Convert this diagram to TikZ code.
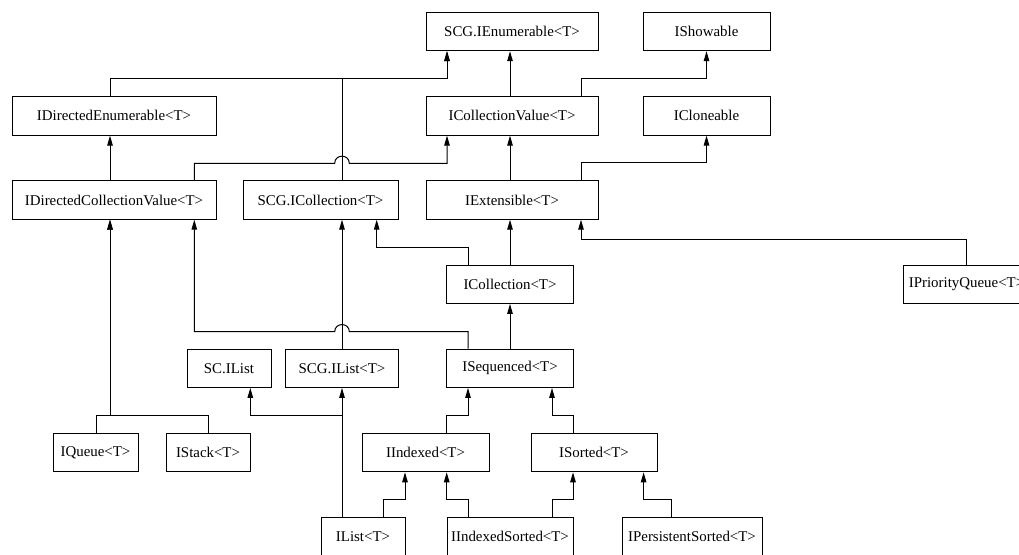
\documentclass[tikz,border=0pt]{standalone}
\usepackage{fontspec}
\setmainfont{Liberation Serif}
\usetikzlibrary{arrows.meta}
\tikzset{
  cls/.style={draw=black, line width=1pt, rectangle, inner sep=0pt,
    minimum height=38.4pt, font=\fontsize{14.9}{17}\selectfont},
  inh/.style={draw=black, line width=1pt, -{Triangle[length=10pt,width=5.5pt]}},
}
\begin{document}
\begin{tikzpicture}[x=1pt,y=-1pt]
\useasboundingbox (0,0) rectangle (1019,554);
\clip (0,0) rectangle (1019,554);
% row 1
\node[cls, minimum width=172pt] (scgenum) at (512,31.5) {SCG.IEnumerable<T>};
\node[cls, minimum width=127pt] (ishow) at (706.5,31.5) {IShowable};
% row 2
\node[cls, minimum width=204pt] (iden) at (114,115.9) {IDirectedEnumerable<T>};
\node[cls, minimum width=172pt] (icv) at (512,115.9) {ICollectionValue<T>};
\node[cls, minimum width=127pt] (iclone) at (706.5,115.9) {ICloneable};
% row 3
\node[cls, minimum width=204pt] (idcv) at (114,200) {IDirectedCollectionValue<T>};
\node[cls, minimum width=155pt] (scgcoll) at (320.5,200) {SCG.ICollection<T>};
\node[cls, minimum width=172pt] (iext) at (512,200) {IExtensible<T>};
% row 4
\node[cls, minimum width=127pt] (icoll) at (510,284.2) {ICollection<T>};
\node[cls, minimum width=127pt] (ipq) at (966.5,284.2) {IPriorityQueue<T>};
% row 5
\node[cls, minimum width=84pt] (sclist) at (229,368.2) {SC.IList};
\node[cls, minimum width=113pt] (scglist) at (342,368.2) {SCG.IList<T>};
\node[cls, minimum width=127pt] (iseq) at (510,368.2) {ISequenced<T>};
% row 6
\node[cls, minimum width=85pt] (iqueue) at (95.5,452.6) {IQueue<T>};
\node[cls, minimum width=84pt] (istack) at (208,452.6) {IStack<T>};
\node[cls, minimum width=127pt] (iidx) at (425.5,452.6) {IIndexed<T>};
\node[cls, minimum width=126pt] (isort) at (594,452.6) {ISorted<T>};
% row 7
\node[cls, minimum width=84pt] (ilist) at (363,536.5) {IList<T>};
\node[cls, minimum width=126pt] (iidxs) at (510,536.5) {IIndexedSorted<T>};
\node[cls, minimum width=140pt] (ipers) at (692,536.5) {IPersistentSorted<T>};

% connectors
\draw[inh] ([xshift=-4pt]iden.north) -- ++(0,-17.7) -| ([xshift=-65pt]scgenum.south);
\draw[inh] ([xshift=21.5pt]scgcoll.north) -- ++(0,-101.8) -| ([xshift=-65pt]scgenum.south);
\draw[inh] ([xshift=-2pt]icv.north) -- ([xshift=-2pt]scgenum.south);
\draw[inh] ([xshift=69pt]icv.north) -- ++(0,-17.7) -| (ishow.south);
\draw[inh] ([xshift=-4pt]idcv.north) -- ([xshift=-4pt]iden.south);
\draw[inh] ([xshift=80.3pt]idcv.north) |- (334.7,163.3)
   .. controls (334.7,153.8) and (349.3,153.8) .. (349.3,163.3)
   -| ([xshift=-65pt]icv.south);
\draw[inh] ([xshift=-2pt]iext.north) -- ([xshift=-2pt]icv.south);
\draw[inh] ([xshift=69pt]iext.north) -- ++(0,-17.5) -| (iclone.south);
\draw[inh] (icoll.north) -- (icoll.north |- iext.south);
\draw[inh] ([xshift=-42pt]icoll.north) -- ++(0,-17.3) -| ([xshift=56.2pt]scgcoll.south);
\draw[inh] (ipq.north) -- ++(0,-25) -| ([xshift=69pt]iext.south);
\draw[inh] (scglist.north) -- (scglist.north |- scgcoll.south);
\draw[inh] (iseq.north) -- (iseq.north |- icoll.south);
\draw[inh] ([xshift=-42pt]iseq.north) |- (349.3,331.7)
   .. controls (349.3,322.2) and (334.7,322.2) .. (334.7,331.7)
   -| ([xshift=80.3pt]idcv.south);
\draw[inh] ([xshift=0.5pt]iqueue.north) -- ++(0,-17.5) -| ([xshift=-4pt]idcv.south);
\draw[inh] ([xshift=0.3pt]istack.north) -- ++(0,-17.5) -| ([xshift=-4pt]idcv.south);
\draw[inh] ([xshift=-21pt]ilist.north) -- (scglist.south);
\draw[inh] ([xshift=-21pt]ilist.north) -- ++(0,-101.6) -| ([xshift=21.3pt]sclist.south);
\draw[inh] ([xshift=21.2pt]iidx.north) -- ++(0,-17.5) -| ([xshift=-42pt]iseq.south);
\draw[inh] ([xshift=-21pt]isort.north) -- ++(0,-17.5) -| ([xshift=42pt]iseq.south);
\draw[inh] ([xshift=20.3pt]ilist.north) -- ++(0,-17.5) -| ([xshift=-20.5pt]iidx.south);
\draw[inh] ([xshift=-42pt]iidxs.north) -- ++(0,-17.5) -| ([xshift=21.2pt]iidx.south);
\draw[inh] ([xshift=42pt]iidxs.north) -- ++(0,-17.5) -| ([xshift=-21pt]isort.south);
\draw[inh] ([xshift=-20.8pt]ipers.north) -- ++(0,-17.5) -| ([xshift=49.6pt]isort.south);
\end{tikzpicture}
\end{document}
